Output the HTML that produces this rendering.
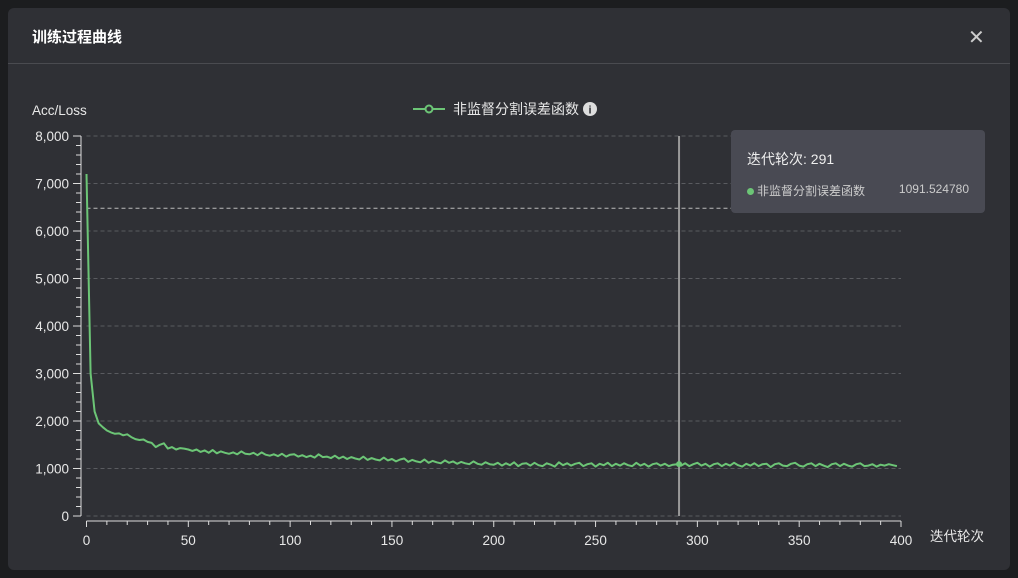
<!DOCTYPE html>
<html><head><meta charset="utf-8"><style>
html,body{margin:0;padding:0;width:1018px;height:578px;overflow:hidden;background:#1c1d1f;font-family:"Liberation Sans","Noto Sans CJK SC",sans-serif;}
#dlg{position:absolute;left:8px;top:8px;width:1002px;height:562px;background:#2f3035;border-radius:6px;}
#title{position:absolute;left:24px;top:18px;color:#fff;font-size:15px;font-weight:bold;}
#close{position:absolute;left:960px;top:17px;color:#ccc;font-size:20px;cursor:pointer;}
#hr{position:absolute;left:0;top:55px;width:1002px;height:1px;background:#4a4b50;}
#tip{position:absolute;left:731px;top:130px;width:254px;height:83px;background:#494a53;border-radius:4px;color:#eee;}
svg{position:absolute;left:0;top:0;}
</style></head><body>
<div id="dlg">
<div id="title">训练过程曲线</div>
<div id="close">✕</div>
<div id="hr"></div>
</div>
<svg id="chart" width="1018" height="578"></svg>
<div id="tip">
<div style="position:absolute;left:16px;top:19px;font-size:14px">迭代轮次: 291</div>
<div style="position:absolute;left:16px;top:52px;font-size:12px;color:#ccc"><span style="display:inline-block;width:7px;height:7px;border-radius:50%;background:#6cc576;margin-right:3px"></span>非监督分割误差函数</div>
<div style="position:absolute;right:16px;top:52px;font-size:12px;color:#ccc">1091.524780</div>
</div>
<script>
const yTicks=[0,1000,2000,3000,4000,5000,6000,7000,8000];
const xTicks=[0,50,100,150,200,250,300,350,400];
const epochStep=2;
const lossValues=[7200,3000,2200,1950,1870,1800,1760,1730,1740,1700,1720,1660,1620,1600,1610,1560,1540,1450,1500,1530,1420,1450,1400,1430,1420,1400,1370,1400,1350,1380,1330,1390,1320,1360,1330,1310,1340,1300,1360,1310,1300,1330,1280,1340,1290,1270,1300,1260,1310,1250,1290,1300,1250,1280,1240,1270,1230,1300,1240,1250,1220,1270,1210,1250,1200,1240,1210,1190,1250,1180,1220,1190,1170,1230,1170,1200,1150,1190,1210,1140,1180,1150,1130,1190,1120,1160,1130,1110,1170,1120,1150,1100,1140,1110,1090,1150,1100,1080,1130,1090,1080,1120,1060,1110,1070,1130,1050,1100,1110,1060,1120,1070,1050,1110,1080,1040,1130,1070,1110,1060,1100,1120,1050,1090,1110,1040,1100,1070,1120,1050,1100,1060,1110,1070,1050,1120,1060,1100,1040,1090,1110,1060,1100,1050,1080,1091,1060,1110,1050,1090,1120,1060,1100,1040,1090,1110,1050,1100,1060,1120,1070,1040,1100,1060,1110,1050,1090,1100,1030,1090,1110,1060,1050,1100,1120,1060,1040,1090,1110,1050,1100,1060,1030,1090,1110,1050,1100,1060,1040,1090,1110,1050,1060,1090,1040,1080,1060,1090,1070,1050];
const hoverEpoch=291, hoverValue=1091.52478, hoverLineValue=6480;
const svg=document.getElementById('chart');const NS='http://www.w3.org/2000/svg';
const X0=86.5,X1=901,Y0=516,Y1=136,XMAX=400,YMAX=8000;
const xs=v=>X0+(X1-X0)*v/XMAX, ys=v=>Y0-(Y0-Y1)*v/YMAX;
function mk(t,a,p){const e=document.createElementNS(NS,t);for(const k in a)e.setAttribute(k,a[k]);(p||svg).appendChild(e);return e;}
const F='"Liberation Sans","Noto Sans CJK SC",sans-serif';
let e=mk('text',{x:32,y:115,fill:'#e8e8e8','font-size':13.5,'font-family':F});e.textContent='Acc/Loss';

e=mk('text',{x:930,y:541,fill:'#e8e8e8','font-size':13.5,'font-family':F});e.textContent='迭代轮次';

yTicks.forEach(v=>{const y=ys(v);
 const g=mk('line',{x1:X0,x2:X1,y1:y,y2:y,stroke:'#5a5b60','stroke-dasharray':'4,3'});
 
 const t=mk('text',{x:69,y:y+5,fill:'#e8e8e8','font-size':13.5,'text-anchor':'end','font-family':F});t.textContent=v.toLocaleString('en-US');
 });
for(let v=0;v<=YMAX;v+=200){const y=ys(v);mk('line',{x1:v%1000?76:73,x2:81,y1:y,y2:y,stroke:'#ddd'});}
mk('line',{x1:81,x2:81,y1:Y1,y2:Y0,stroke:'#ddd'});
mk('line',{x1:X0,x2:X1,y1:521,y2:521,stroke:'#ddd'});
for(let v=0;v<=XMAX;v+=10){const x=xs(v);mk('line',{x1:x,x2:x,y1:521,y2:v%50?525:527,stroke:'#ddd'});}
xTicks.forEach(v=>{const t=mk('text',{x:xs(v),y:545,fill:'#e8e8e8','font-size':13.5,'text-anchor':'middle','font-family':F});t.textContent=v;
 });
e=mk('line',{x1:X0,x2:X1,y1:ys(hoverLineValue),y2:ys(hoverLineValue),stroke:'#bbb','stroke-dasharray':'4,3'});

e=mk('line',{x1:xs(hoverEpoch),x2:xs(hoverEpoch),y1:Y1,y2:Y0,stroke:'#999','stroke-width':2});

const pts=lossValues.map((v,i)=>xs(i*epochStep).toFixed(1)+','+ys(v).toFixed(1)).join(' ');
e=mk('polyline',{points:pts,fill:'none',stroke:'#6cc576','stroke-width':2,'stroke-linejoin':'round'});

e=mk('circle',{cx:xs(hoverEpoch),cy:ys(hoverValue),r:3,fill:'#6cc576'});

const lg=mk('g',{});
mk('line',{x1:413,x2:445,y1:109,y2:109,stroke:'#6cc576','stroke-width':2},lg);
mk('circle',{cx:429,cy:109,r:3.5,fill:'#2f3035',stroke:'#6cc576','stroke-width':2},lg);
e=mk('text',{x:453,y:114,fill:'#e8e8e8','font-size':14,'font-family':F},lg);e.textContent='非监督分割误差函数';
mk('circle',{cx:590,cy:109,r:7,fill:'#ddd'},lg);
e=mk('text',{x:590,y:113.5,fill:'#2f3035','font-size':11,'font-weight':'bold','text-anchor':'middle','font-family':F},lg);e.textContent='i';
</script>
</body></html>
